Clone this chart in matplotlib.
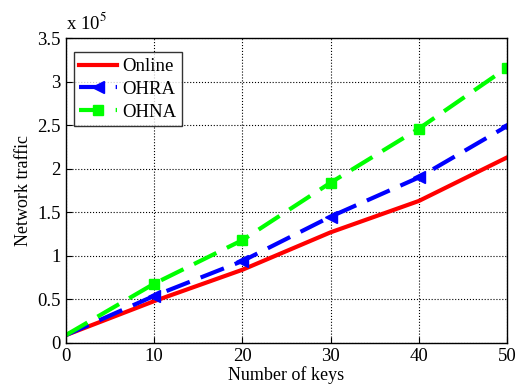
import numpy as np
import matplotlib
matplotlib.use("Agg")
import matplotlib.pyplot as plt

plt.rcParams.update({"font.family": "Liberation Serif", "mathtext.fontset": "stix"})

keys = [0, 10, 20, 30, 40, 50]
online = [0.09, 0.48, 0.84, 1.27, 1.63, 2.13]
ohra = [0.09, 0.54, 0.94, 1.45, 1.90, 2.49]
ohna = [0.09, 0.68, 1.18, 1.84, 2.46, 3.16]

fig = plt.figure(figsize=(5.18, 3.88), dpi=100)
ax = fig.add_axes([0.127, 0.116, 0.852, 0.786])

dash = (0, (6, 2.8))
ax.plot(keys, online, color="red", lw=3, label="Online")
ax.plot(keys, ohra, color="blue", lw=3, ls=dash, marker="<", ms=8, markevery=[1, 2, 3, 4, 5], label="OHRA")
ax.plot(keys, ohna, color="#00ff00", lw=3, ls=dash, marker="s", ms=7, markevery=[1, 2, 3, 4, 5], label="OHNA")

ax.set_xlim(0, 50)
ax.set_ylim(0, 3.5)
ax.set_xticks(np.arange(0, 51, 10))
ax.set_yticks(np.arange(0, 3.51, 0.5))
ax.set_yticklabels(["0", "0.5", "1", "1.5", "2", "2.5", "3", "3.5"])
ax.grid(True, color="black", ls=":", lw=0.8)
ax.tick_params(direction="in", labelsize=13.5, length=4)
for s in ax.spines.values():
    s.set_linewidth(1.0)
ax.set_xlabel("Number of keys", fontsize=13, labelpad=1)
ax.set_ylabel("Network traffic", fontsize=13, labelpad=4)
ax.text(0.0, 1.015, "x 10$^5$", transform=ax.transAxes, fontsize=13.5, ha="left", va="bottom")

leg = ax.legend(loc="upper left", bbox_to_anchor=(0.018, 0.953), fontsize=13.5, frameon=True,
                fancybox=False, edgecolor="black", handlelength=2.0, borderpad=0.3,
                labelspacing=0.3, handletextpad=0.3, borderaxespad=0)
leg.get_frame().set_linewidth(1.0)

fig.savefig("out.png", dpi=100)
